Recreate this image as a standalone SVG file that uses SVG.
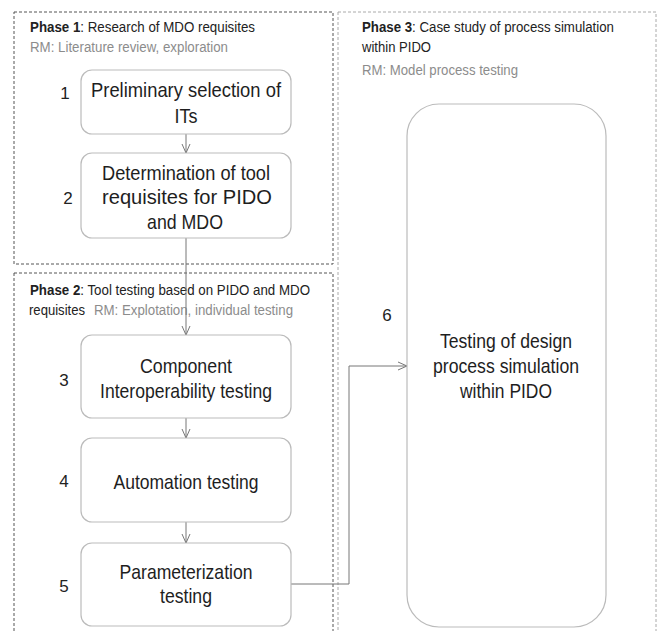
<svg xmlns="http://www.w3.org/2000/svg" width="660" height="631" viewBox="0 0 660 631">
  <style>
    .phase { fill: none; stroke: #555; stroke-width: 1; stroke-dasharray: 3 2; }
    .phase3 { fill: none; stroke: #aaa; stroke-width: 1; stroke-dasharray: 3 2; }
    .node { fill: #fff; stroke: #bbb; stroke-width: 1.2; }
    .ttl { font-family: "Liberation Sans", Arial, sans-serif; font-size: 14px; fill: #222; }
    .rm { fill: #8c8c8c; }
    .b { font-weight: bold; }
    .lbl { font-family: "Liberation Sans", Arial, sans-serif; font-size: 21px; fill: #1e1e1e; text-anchor: middle; }
    .num { font-family: "Liberation Sans", Arial, sans-serif; font-size: 17px; fill: #222; text-anchor: middle; }
    .conn { fill: none; stroke: #777; stroke-width: 1; }
  </style>
  <defs>
    <marker id="arrow" viewBox="0 0 10 10" refX="10" refY="5" markerWidth="10" markerHeight="10" markerUnits="userSpaceOnUse" orient="auto">
      <path d="M1,1 L10,5 L1,9" fill="none" stroke="#777" stroke-width="1"/>
    </marker>
  </defs>
  <rect width="660" height="631" fill="#fff"/>

  <!-- phase frames -->
  <g id="phase1">
    <rect class="phase" x="14" y="12" width="319" height="252"/>
    <text class="ttl" x="30" y="32" textLength="225" lengthAdjust="spacingAndGlyphs"><tspan class="b">Phase 1</tspan>: Research of MDO requisites</text>
    <text class="ttl rm" x="30" y="52" textLength="198" lengthAdjust="spacingAndGlyphs">RM: Literature review, exploration</text>
  </g>
  <g id="phase2">
    <rect class="phase" x="14" y="273" width="319" height="370"/>
    <text class="ttl" x="30" y="295" textLength="280" lengthAdjust="spacingAndGlyphs"><tspan class="b">Phase 2</tspan>: Tool testing based on PIDO and MDO</text>
    <text class="ttl" x="29" y="315" textLength="56" lengthAdjust="spacingAndGlyphs">requisites</text>
    <text class="ttl rm" x="94" y="315" textLength="199" lengthAdjust="spacingAndGlyphs">RM: Explotation, individual testing</text>
  </g>
  <g id="phase3">
    <rect class="phase3" x="338" y="12" width="318" height="631"/>
    <text class="ttl" x="362" y="32" textLength="252" lengthAdjust="spacingAndGlyphs"><tspan class="b">Phase 3</tspan>: Case study of process simulation</text>
    <text class="ttl" x="362" y="52" textLength="69" lengthAdjust="spacingAndGlyphs">within PIDO</text>
    <text class="ttl rm" x="362" y="75" textLength="156" lengthAdjust="spacingAndGlyphs">RM: Model process testing</text>
  </g>

  <!-- connectors -->
  <g id="connectors">
    <line class="conn" x1="186" y1="134" x2="186" y2="153" marker-end="url(#arrow)"/>
    <line class="conn" x1="186" y1="238" x2="186" y2="335" marker-end="url(#arrow)"/>
    <line class="conn" x1="186" y1="418" x2="186" y2="438" marker-end="url(#arrow)"/>
    <line class="conn" x1="186" y1="522" x2="186" y2="543" marker-end="url(#arrow)"/>
    <polyline class="conn" points="291,584 349,584 349,366 407,366" marker-end="url(#arrow)"/>
  </g>

  <!-- process steps -->
  <g id="node1">
    <rect class="node" x="81" y="70" width="210" height="64" rx="11"/>
    <text class="lbl" x="186" y="97" textLength="190" lengthAdjust="spacingAndGlyphs">Preliminary selection of</text>
    <text class="lbl" x="186" y="123" textLength="23" lengthAdjust="spacingAndGlyphs">ITs</text>
    <text class="num" x="65" y="99">1</text>
  </g>
  <g id="node2">
    <rect class="node" x="81" y="153" width="210" height="85" rx="11"/>
    <text class="lbl" x="186" y="180" textLength="168" lengthAdjust="spacingAndGlyphs">Determination of tool</text>
    <text class="lbl" x="187" y="204" textLength="170" lengthAdjust="spacingAndGlyphs">requisites for PIDO</text>
    <text class="lbl" x="185" y="229" textLength="76" lengthAdjust="spacingAndGlyphs">and MDO</text>
    <text class="num" x="68" y="204">2</text>
  </g>
  <g id="node3">
    <rect class="node" x="81" y="335" width="210" height="83" rx="11"/>
    <text class="lbl" x="186" y="373" textLength="92" lengthAdjust="spacingAndGlyphs">Component</text>
    <text class="lbl" x="186" y="398" textLength="172" lengthAdjust="spacingAndGlyphs">Interoperability testing</text>
    <text class="num" x="64" y="386">3</text>
  </g>
  <g id="node4">
    <rect class="node" x="81" y="438" width="210" height="84" rx="11"/>
    <text class="lbl" x="186" y="489" textLength="145" lengthAdjust="spacingAndGlyphs">Automation testing</text>
    <text class="num" x="64" y="487">4</text>
  </g>
  <g id="node5">
    <rect class="node" x="81" y="543" width="210" height="83" rx="11"/>
    <text class="lbl" x="186" y="579" textLength="133" lengthAdjust="spacingAndGlyphs">Parameterization</text>
    <text class="lbl" x="186" y="603" textLength="52" lengthAdjust="spacingAndGlyphs">testing</text>
    <text class="num" x="64" y="592">5</text>
  </g>
  <g id="node6">
    <rect class="node" x="407" y="104" width="199" height="523" rx="32"/>
    <text class="lbl" x="506" y="348" textLength="132" lengthAdjust="spacingAndGlyphs">Testing of design</text>
    <text class="lbl" x="506" y="373" textLength="146" lengthAdjust="spacingAndGlyphs">process simulation</text>
    <text class="lbl" x="506" y="398" textLength="92" lengthAdjust="spacingAndGlyphs">within PIDO</text>
    <text class="num" x="387" y="321">6</text>
  </g>
</svg>
